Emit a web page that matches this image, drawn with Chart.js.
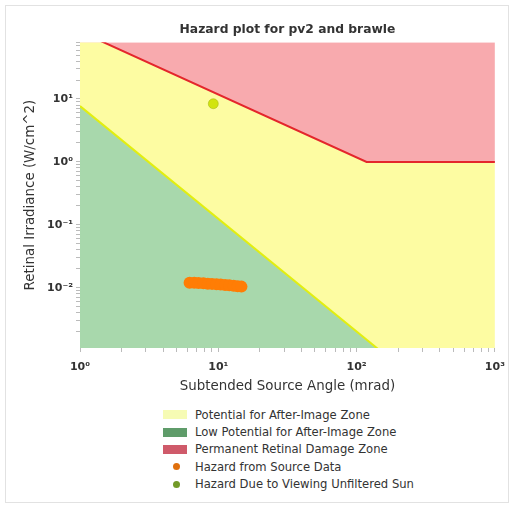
<!DOCTYPE html>
<html>
<head>
<meta charset="utf-8">
<script src="https://cdn.jsdelivr.net/npm/chart.js@4/dist/chart.umd.min.js"></script>
<style>
  body { margin: 0; background: #fff; font-family: 'DejaVu Sans', sans-serif; }
  #frame { position: absolute; left: 5px; top: 5px; width: 502px; height: 496px; border: 1px solid #e2e2e2; }
  #hazard { position: absolute; left: 0; top: 0; }
  #legend { position: absolute; left: 163px; top: 406px; font-size: 11.6px; color: #333; }
  .item { display: flex; align-items: center; height: 17.4px; }
  .swatch { width: 24px; height: 9px; margin-right: 8px; }
  .dot { width: 7px; height: 7px; border-radius: 50%; margin: 0 15px 0 10px; }
</style>
</head>
<body>
<div id="frame"></div>
<canvas id="hazard" width="514" height="400"></canvas>
<div id="legend"></div>
<script>
const angleDecades = [1, 10, 100, 1000];
const angleLabels = ['10⁰', '10¹', '10²', '10³'];
const irrDecades = [0.01, 0.1, 1, 10];
const irrLabels = ['10⁻²', '10⁻¹', '10⁰', '10¹'];

// permanent retinal damage threshold (W/cm^2 vs mrad)
const damageAngle = [1, 118, 1000];
const damageIrr = [118, 1, 1];

// after-image threshold
const afterImageAngle = [1, 140, 1000];
const afterImageIrr = [7.7, 0.0011, 0.000029];

// hazard from source data
const sourceAngle = [6.2, 6.7, 7.2, 7.8, 8.4, 9.0, 9.7, 10.4, 11.2, 12.0, 12.9, 13.8, 14.7];
const sourceIrr = [0.0120, 0.0120, 0.0119, 0.0118, 0.0116, 0.0115, 0.0113, 0.0112, 0.0110, 0.0109, 0.0107, 0.0105, 0.0104];

// hazard due to viewing unfiltered sun
const sunAngle = [9.2];
const sunIrr = [8.4];

const legendNames = [
    'Potential for After-Image Zone',
    'Low Potential for After-Image Zone',
    'Permanent Retinal Damage Zone',
    'Hazard from Source Data',
    'Hazard Due to Viewing Unfiltered Sun'
];
const legendColors = ['#f6fbb4', '#5f9c6a', '#cf5a6a', '#e0700e', '#729a28'];

const pts = (xs, ys) => xs.map((x, i) => ({ x: x, y: ys[i] }));

const logTicks = (decades, min, max) => {
    const out = [];
    [decades[0] / 10, ...decades].forEach(d => {
        for (let k = 1; k < 10; k++) {
            const v = k === 1 ? d : d * k;
            if (v >= min && v <= max) out.push({ value: v, major: k === 1 });
        }
    });
    return out;
};

const font = { family: 'DejaVu Sans', size: 11, weight: 'bold' };
const titleFont = { family: 'DejaVu Sans', size: 13.4 };

new Chart(document.getElementById('hazard'), {
    type: 'scatter',
    data: {
        datasets: [
            {
                label: legendNames[4], data: pts(sunAngle, sunIrr),
                backgroundColor: '#d2e40e', borderColor: '#a0b010', borderWidth: 0.5,
                pointRadius: 5, order: 1
            },
            {
                label: legendNames[3], data: pts(sourceAngle, sourceIrr),
                backgroundColor: '#ff7d05', borderWidth: 0, pointRadius: 6, order: 2
            },
            {
                label: legendNames[2], type: 'line', data: pts(damageAngle, damageIrr),
                borderColor: '#e4262c', borderWidth: 2, backgroundColor: '#f8aaae',
                fill: 'end', pointRadius: 0, tension: 0, order: 3
            },
            {
                label: legendNames[1], type: 'line', data: pts(afterImageAngle, afterImageIrr),
                borderColor: '#e2ee10', borderWidth: 2, backgroundColor: '#a8d8ac',
                fill: 'start', pointRadius: 0, tension: 0, order: 4
            },
            {
                label: legendNames[0], type: 'line', data: pts(damageAngle, damageIrr),
                borderWidth: 0, backgroundColor: '#fdfca2',
                fill: 'start', pointRadius: 0, tension: 0, order: 5
            }
        ]
    },
    options: {
        responsive: false,
        animation: false,
        layout: { padding: { left: 14, right: 18, top: 0, bottom: 4 } },
        plugins: {
            legend: { display: false },
            tooltip: { enabled: false },
            title: {
                display: true,
                fullSize: false,
                text: 'Hazard plot for pv2 and brawle',
                color: '#333',
                font: { family: 'DejaVu Sans', size: 12.3, weight: 'bold' },
                padding: { top: 22, bottom: 5.4 }
            }
        },
        scales: {
            x: {
                type: 'logarithmic',
                min: 1,
                max: 1000,
                afterBuildTicks: s => { s.ticks = logTicks(angleDecades, 1, 1000); },
                afterFit: s => { s.height = 48; },
                border: { display: false },
                grid: { drawOnChartArea: false, tickLength: 4, color: '#bbbbbb' },
                ticks: {
                    autoSkip: false, maxRotation: 0, padding: 9, color: '#333', font: font,
                    callback: v => { const i = angleDecades.indexOf(v); return i >= 0 ? angleLabels[i] : ''; }
                },
                title: {
                    display: true, text: 'Subtended Source Angle (mrad)', color: '#333',
                    font: titleFont, padding: { top: 0, bottom: 1 }
                }
            },
            y: {
                type: 'logarithmic',
                min: 0.0011,
                max: 80,
                afterBuildTicks: s => { s.ticks = logTicks(irrDecades, 0.0011, 80); },
                afterFit: s => { s.width = 66; },
                border: { display: false },
                grid: { drawOnChartArea: false, tickLength: 4, color: '#bbbbbb' },
                ticks: {
                    autoSkip: false, padding: 3, color: '#333', font: font,
                    callback: v => { const i = irrDecades.indexOf(v); return i >= 0 ? irrLabels[i] : ''; }
                },
                title: {
                    display: true, text: 'Retinal Irradiance (W/cm^2)', color: '#333',
                    font: titleFont, padding: { top: 8, bottom: 0 }
                }
            }
        }
    }
});

const legend = document.getElementById('legend');
legendNames.forEach((name, i) => {
    const row = document.createElement('div');
    row.className = 'item';
    const mark = document.createElement('span');
    mark.className = i < 3 ? 'swatch' : 'dot';
    mark.style.background = legendColors[i];
    const text = document.createElement('span');
    text.textContent = name;
    row.appendChild(mark);
    row.appendChild(text);
    legend.appendChild(row);
});
</script>
</body>
</html>
